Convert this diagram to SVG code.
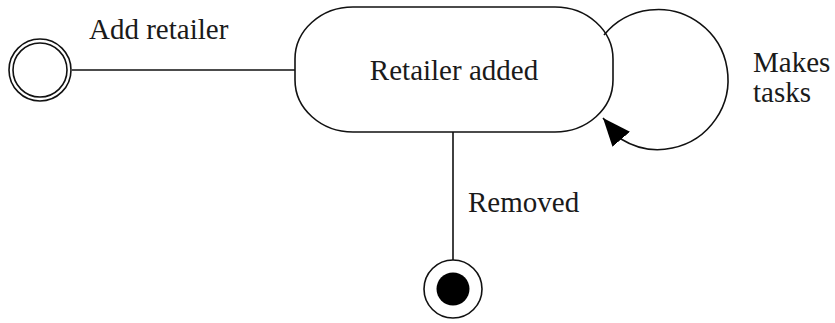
<svg xmlns="http://www.w3.org/2000/svg" width="835" height="323" viewBox="0 0 835 323">
<style>
.ln{fill:none;stroke:#111;stroke-width:1.6}
.txt{font-family:"Liberation Serif","Times New Roman",serif;font-size:29px;fill:#1a1a1a}
</style>
<defs>
<marker id="arr" markerUnits="userSpaceOnUse" viewBox="0 0 28 23" refX="28" refY="11.5" markerWidth="28" markerHeight="23" orient="auto">
<path d="M0,0 L28,11.5 L0,23 z" fill="#000"/>
</marker>
</defs>
<rect width="835" height="323" fill="#fff"/>
<g id="connectors">
<line class="ln" x1="72" y1="70" x2="295" y2="70"/>
<line class="ln" x1="453" y1="132" x2="453" y2="260"/>
<path class="ln" d="M604,35 A70,70 0 1 1 621,139 L603,118" marker-end="url(#arr)"/>
<text class="txt" x="89" y="39">Add retailer</text>
<text class="txt" x="468" y="212">Removed</text>
<text class="txt" x="753" y="72">Makes</text>
<text class="txt" x="753" y="102">tasks</text>
</g>
<g id="initial">
<circle class="ln" cx="40" cy="70" r="31"/>
<circle class="ln" cx="40" cy="70" r="27"/>
</g>
<g id="retailer-added">
<rect class="ln" x="295" y="7" width="318" height="125" rx="58" ry="52" fill="#fff"/>
<text class="txt" x="454" y="80" text-anchor="middle">Retailer added</text>
</g>
<g id="final">
<circle class="ln" cx="453" cy="289" r="29"/>
<circle cx="453" cy="289" r="16.5" fill="#000"/>
</g>
</svg>
